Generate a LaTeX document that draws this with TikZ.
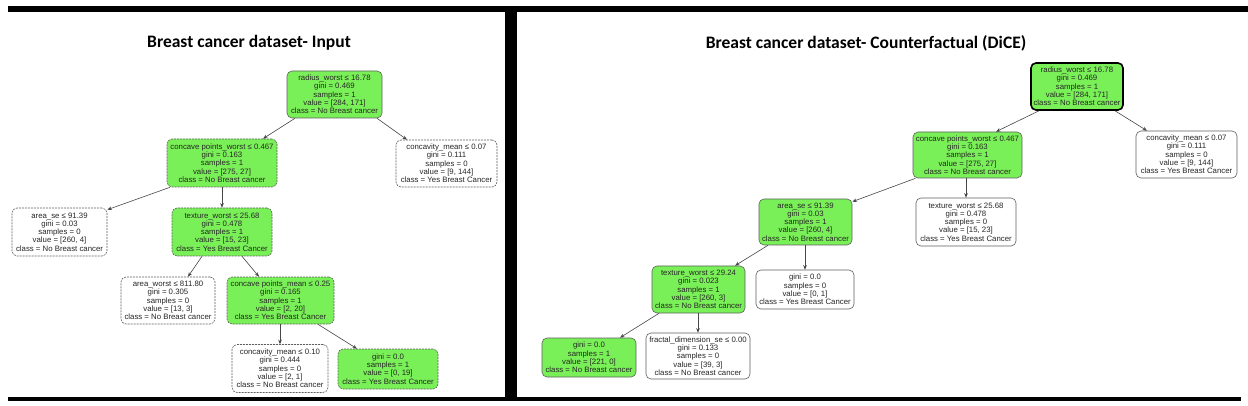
\documentclass[tikz,border=0pt]{standalone}
\usepackage{fontspec}
\setmainfont{Liberation Sans}
\newfontfamily\titlefont{Carlito}
\usetikzlibrary{arrows.meta}
\definecolor{leafgreen}{RGB}{122,240,88}
\definecolor{edgegray}{RGB}{70,70,70}
\definecolor{boxgray}{RGB}{95,95,95}
\tikzset{
  tnode/.style={rectangle, rounded corners=5pt, inner sep=0pt, align=center,
    font=\fontsize{7.8}{8.3}\selectfont, text=black!85, line width=0.6pt},
  greenbox/.style={tnode, fill=leafgreen, draw=boxgray},
  whitebox/.style={tnode, fill=white, draw=boxgray},
  dashbox/.style={dash pattern=on 2pt off 1pt},
  rootbox/.style={tnode, fill=leafgreen, draw=black, line width=1.6pt},
  conn/.style={draw=edgegray, line width=0.6pt, -{Stealth[length=4.5pt,width=3.6pt]}},
  bar/.style={fill=black, draw=none},
  ttl/.style={font=\titlefont\bfseries\fontsize{17.5}{20}\selectfont, inner sep=0pt}
}
\begin{document}
\begin{tikzpicture}[x=1pt,y=-1pt]
\useasboundingbox (0,0) rectangle (1248,406);
\fill[white] (0,0) rectangle (1248,406);
% frame
\fill[bar] (8,6) rectangle (1248,12);
\fill[bar] (8,397) rectangle (1241,400.5);
\fill[bar] (505,6) rectangle (517,400.5);
% titles
\node[ttl] (t1) at (249,43) {Breast cancer dataset- Input};
\node[ttl] (t2) at (866,43) {Breast cancer dataset- Counterfactual (DiCE)};

% ---------- left tree ----------
\node[greenbox, minimum width=95pt, minimum height=47pt] (L1) at (334.5,94.5)
 {radius\_worst ≤ 16.78\\gini = 0.469\\samples = 1\\value = [284, 171]\\class = No Breast cancer};
\node[greenbox, dashbox, minimum width=110pt, minimum height=48pt] (L2) at (222,163)
 {concave points\_worst ≤ 0.467\\gini = 0.163\\samples = 1\\value = [275, 27]\\class = No Breast cancer};
\node[whitebox, dashbox, minimum width=101pt, minimum height=47pt] (L3) at (446.5,163.5)
 {concavity\_mean ≤ 0.07\\gini = 0.111\\samples = 0\\value = [9, 144]\\class = Yes Breast Cancer};
\node[whitebox, dashbox, minimum width=95pt, minimum height=48pt] (L4) at (59.5,232)
 {area\_se ≤ 91.39\\gini = 0.03\\samples = 0\\value = [260, 4]\\class = No Breast cancer};
\node[greenbox, dashbox, minimum width=100pt, minimum height=48pt] (L5) at (222,232)
 {texture\_worst ≤ 25.68\\gini = 0.478\\samples = 1\\value = [15, 23]\\class = Yes Breast Cancer};
\node[whitebox, dashbox, minimum width=94pt, minimum height=47pt] (L6) at (168,300.5)
 {area\_worst ≤ 811.80\\gini = 0.305\\samples = 0\\value = [13, 3]\\class = No Breast cancer};
\node[greenbox, dashbox, minimum width=107pt, minimum height=47pt] (L7) at (280.5,300.5)
 {concave points\_mean ≤ 0.25\\gini = 0.165\\samples = 1\\value = [2, 20]\\class = Yes Breast Cancer};
\node[whitebox, dashbox, minimum width=96pt, minimum height=48pt] (L8) at (280,368.5)
 {concavity\_mean ≤ 0.10\\gini = 0.444\\samples = 0\\value = [2, 1]\\class = No Breast cancer};
\node[greenbox, dashbox, minimum width=100pt, minimum height=40pt] (L9) at (388,369)
 {gini = 0.0\\samples = 1\\value = [0, 19]\\class = Yes Breast Cancer};

\draw[conn] ([xshift=-39.5pt]L1.south) -- ([xshift=41pt]L2.north);
\draw[conn] ([xshift=42.5pt]L1.south) -- ([xshift=-39.5pt]L3.north);
\draw[conn] ([xshift=-52pt]L2.south) -- ([yshift=-2pt]L4.north east);
\draw[conn] (L2.south) -- (L5.north);
\draw[conn] ([xshift=-20pt]L5.south) -- ([xshift=20pt]L6.north);
\draw[conn] ([xshift=20pt]L5.south) -- ([xshift=-21.5pt]L7.north);
\draw[conn] ([xshift=-0.5pt]L7.south) -- (L8.north);
\draw[conn] ([xshift=37.5pt]L7.south) -- ([xshift=-31pt]L9.north);

% ---------- right tree ----------
\node[rootbox, minimum width=92pt, minimum height=47pt] (R1) at (1077,86.5)
 {radius\_worst ≤ 16.78\\gini = 0.469\\samples = 1\\value = [284, 171]\\class = No Breast cancer};
\node[greenbox, minimum width=109pt, minimum height=46pt] (R2) at (967.5,155)
 {concave points\_worst ≤ 0.467\\gini = 0.163\\samples = 1\\value = [275, 27]\\class = No Breast cancer};
\node[whitebox, minimum width=101pt, minimum height=47pt] (R3) at (1186.5,154.5)
 {concavity\_mean ≤ 0.07\\gini = 0.111\\samples = 0\\value = [9, 144]\\class = Yes Breast Cancer};
\node[greenbox, minimum width=93pt, minimum height=46pt] (R4) at (805.5,222)
 {area\_se ≤ 91.39\\gini = 0.03\\samples = 1\\value = [260, 4]\\class = No Breast cancer};
\node[whitebox, minimum width=100pt, minimum height=48pt] (R5) at (966,222)
 {texture\_worst ≤ 25.68\\gini = 0.478\\samples = 0\\value = [15, 23]\\class = Yes Breast Cancer};
\node[greenbox, minimum width=93pt, minimum height=47pt] (R6) at (698.5,289.5)
 {texture\_worst ≤ 29.24\\gini = 0.023\\samples = 1\\value = [260, 3]\\class = No Breast cancer};
\node[whitebox, minimum width=98pt, minimum height=39pt] (R7) at (805,289.5)
 {gini = 0.0\\samples = 0\\value = [0, 1]\\class = Yes Breast Cancer};
\node[greenbox, minimum width=94pt, minimum height=39pt] (R8) at (589,357.5)
 {gini = 0.0\\samples = 1\\value = [221, 0]\\class = No Breast cancer};
\node[whitebox, minimum width=104pt, minimum height=46pt] (R9) at (698,356)
 {fractal\_dimension\_se ≤ 0.00\\gini = 0.133\\samples = 0\\value = [39, 3]\\class = No Breast cancer};

\draw[conn] ([xshift=-38pt]R1.south) -- ([xshift=28.5pt]R2.north);
\draw[conn] ([xshift=38pt]R1.south) -- ([xshift=-39.5pt]R3.north);
\draw[conn] ([xshift=-52pt]R2.south) -- ([yshift=-3pt]R4.north east);
\draw[conn] ([xshift=-1.5pt]R2.south) -- (R5.north);
\draw[conn] ([xshift=-37.5pt]R4.south) -- ([xshift=36.5pt]R6.north);
\draw[conn] ([xshift=-0.5pt]R4.south) -- (R7.north);
\draw[conn] ([xshift=-39.5pt]R6.south) -- ([xshift=31pt]R8.north);
\draw[conn] ([xshift=-0.5pt]R6.south) -- (R9.north);
\end{tikzpicture}
\end{document}
